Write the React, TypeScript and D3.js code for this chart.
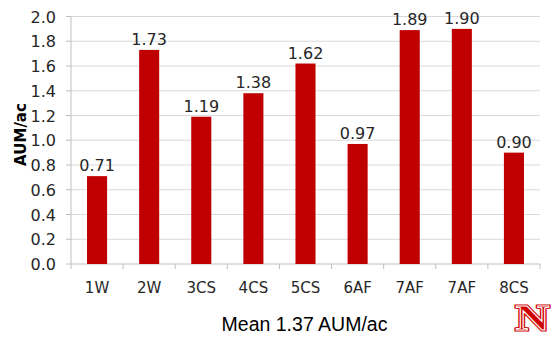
import React from "react";
import * as d3 from "d3";

const categories = ["1W", "2W", "3CS", "4CS", "5CS", "6AF", "7AF", "7AF", "8CS"];
const values = [0.71, 1.73, 1.19, 1.38, 1.62, 0.97, 1.89, 1.9, 0.9];
const yTicks = [0, 0.2, 0.4, 0.6, 0.8, 1.0, 1.2, 1.4, 1.6, 1.8, 2.0];
const yLabel = "AUM/ac";
const xTitle = "Mean 1.37 AUM/ac";

const W = 552, H = 337;
const left = 71, right = 540, top = 16.5, bottom = 264;
const FONT = "'DejaVu Sans', Verdana, sans-serif";

export default function App() {
  const idx = categories.map((_, i) => i);
  const x = d3.scaleBand<number>().domain(idx).range([left, right]).paddingInner(0.615).paddingOuter(0.3075);
  const xb = d3.scaleBand<number>().domain(idx).range([left, right]);
  const y = d3.scaleLinear().domain([0, 2]).range([bottom, top]);
  return (
    <svg width={W} height={H} style={{ position: "absolute", left: 0, top: 0 }}>
      <rect width={W} height={H} fill="#fff" />
      {yTicks.map((t) => (
        <g key={t}>
          {t > 0 && <line x1={left} x2={right} y1={y(t)} y2={y(t)} stroke="#d9d9d9" strokeWidth={1} />}
          <line x1={left - 5} x2={left} y1={y(t)} y2={y(t)} stroke="#bfbfbf" />
          <text x={56} y={y(t) + 6} textAnchor="end" fontFamily={FONT} fontSize={16} fill="#262626">{t.toFixed(1)}</text>
        </g>
      ))}
      <line x1={left} x2={left} y1={top} y2={bottom} stroke="#bfbfbf" />
      <line x1={left} x2={right} y1={bottom} y2={bottom} stroke="#bfbfbf" />
      {idx.map((i) => (
        <line key={"t" + i} x1={xb(i)!} x2={xb(i)!} y1={bottom} y2={bottom + 5} stroke="#bfbfbf" />
      ))}
      <line x1={right} x2={right} y1={bottom} y2={bottom + 5} stroke="#bfbfbf" />
      {values.map((v, i) => (
        <g key={"b" + i}>
          <rect x={x(i)!} y={y(v)} width={x.bandwidth()} height={bottom - y(v)} fill="#c00000" />
          <text x={x(i)! + x.bandwidth() / 2} y={y(v) - 5} textAnchor="middle" fontFamily={FONT} fontSize={16} fill="#262626">{v.toFixed(2)}</text>
          <text x={xb(i)! + xb.bandwidth() / 2} y={293} textAnchor="middle" fontFamily={FONT} fontSize={15} fill="#262626">{categories[i]}</text>
        </g>
      ))}
      <text transform={`translate(26,134.5) rotate(-90)`} textAnchor="middle" fontFamily={FONT} fontWeight="bold" fontSize={15} fill="#000">{yLabel}</text>
      <text x={304.5} y={331} textAnchor="middle" fontFamily="'Liberation Sans', Arial, sans-serif" fontSize={19.5} fill="#000">{xTitle}</text>
      <g transform="translate(532.5,330) scale(1.3,1)">
        <text x={0} y={0} textAnchor="middle" fontFamily="'Liberation Serif', serif" fontWeight="bold" fontSize={36} fill="#d00000" stroke="#d00000" strokeWidth={3}>N</text>
        <text x={0} y={0} textAnchor="middle" fontFamily="'Liberation Serif', serif" fontWeight="bold" fontSize={36} fill="#d00000" stroke="#fff" strokeWidth={0.9}>N</text>
      </g>
    </svg>
  );
}
